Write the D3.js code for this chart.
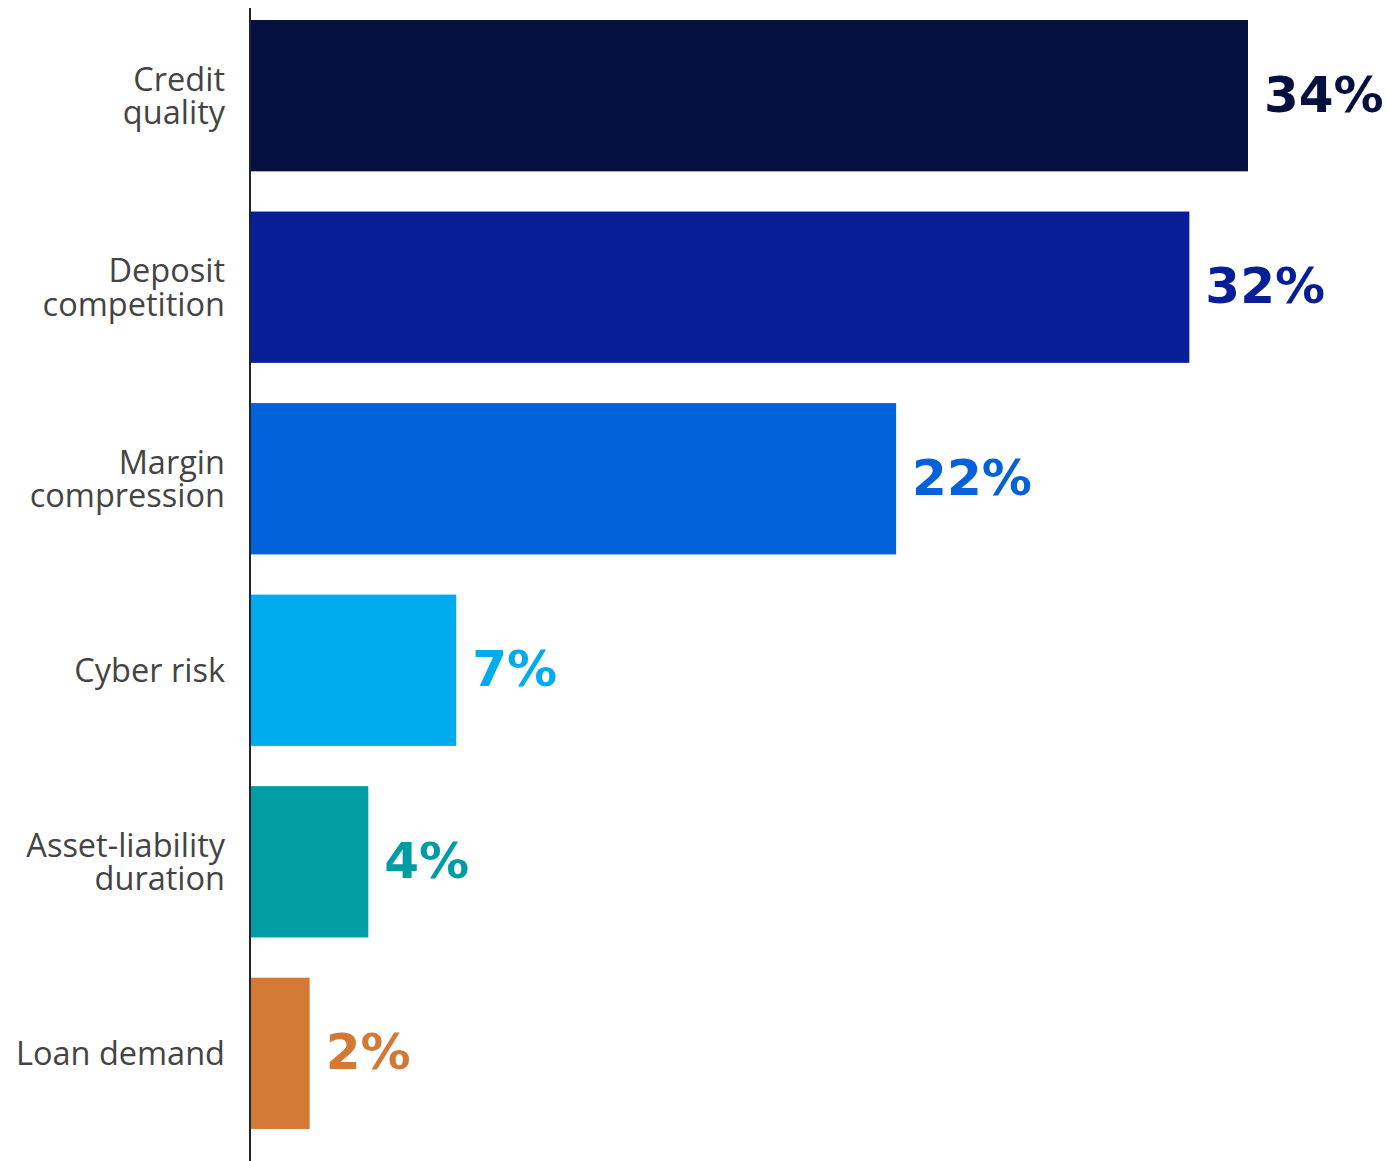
<!DOCTYPE html>
<html>
<head>
<meta charset="utf-8">
<script src="https://cdn.jsdelivr.net/npm/d3@7"></script>
<style>
  html, body { margin: 0; padding: 0; background: #ffffff; }
  svg { display: block; }
</style>
</head>
<body>
<svg id="chart" width="1388" height="1161"></svg>
<script>
// Share of respondents naming each issue as the top concern
const categories = [
  ["Credit", "quality"],
  ["Deposit", "competition"],
  ["Margin", "compression"],
  ["Cyber risk"],
  ["Asset-liability", "duration"],
  ["Loan demand"]
];
const values = [34, 32, 22, 7, 4, 2];
const barColors = ["#050f40", "#081e96", "#0262dc", "#00acee", "#009ca3", "#d47836"];

const W = 1388, H = 1161;
const margin = { left: 251, top: 20, right: 0, bottom: 32 };

const svg = d3.select("#chart");

const x = d3.scaleLinear()
  .domain([0, 34])
  .range([margin.left, 1248]);

const y = d3.scaleBand()
  .domain(d3.range(values.length))
  .range([margin.top, H - margin.bottom])
  .paddingInner(0.21)
  .paddingOuter(0);

// Bars
svg.append("g")
  .selectAll("rect")
  .data(values)
  .join("rect")
  .attr("x", x(0))
  .attr("y", (d, i) => y(i))
  .attr("width", d => x(d) - x(0))
  .attr("height", y.bandwidth())
  .attr("fill", (d, i) => barColors[i]);

// Value labels
svg.append("g")
  .selectAll("text")
  .data(values)
  .join("text")
  .attr("x", d => x(d) + 16)
  .attr("y", (d, i) => y(i) + y.bandwidth() / 2)
  .attr("dy", "0.32em")
  .attr("fill", (d, i) => barColors[i])
  .style("font-family", "'DejaVu Sans', sans-serif")
  .style("font-weight", 700)
  .style("font-size", "50px")
  .text(d => d + "%");

// Category labels (right-aligned, possibly two lines)
const lineH = 33.5;
const labels = svg.append("g")
  .selectAll("text")
  .data(categories)
  .join("text")
  .attr("text-anchor", "end")
  .attr("fill", "#444444")
  .style("font-family", "'Open Sans', sans-serif")
  .style("font-size", "32.5px")
  .attr("transform", (d, i) => `translate(225,${y(i) + y.bandwidth() / 2})`);

labels.selectAll("tspan")
  .data(d => d.map((t, k) => ({ t, k, n: d.length })))
  .join("tspan")
  .attr("x", 0)
  .attr("y", d => (d.k - (d.n - 1) / 2) * lineH)
  .attr("dy", "0.36em")
  .text(d => d.t);

// Vertical baseline
svg.append("line")
  .attr("x1", x(0) - 1)
  .attr("x2", x(0) - 1)
  .attr("y1", 8)
  .attr("y2", H)
  .attr("stroke", "#1c2630")
  .attr("stroke-width", 2);
</script>
</body>
</html>
